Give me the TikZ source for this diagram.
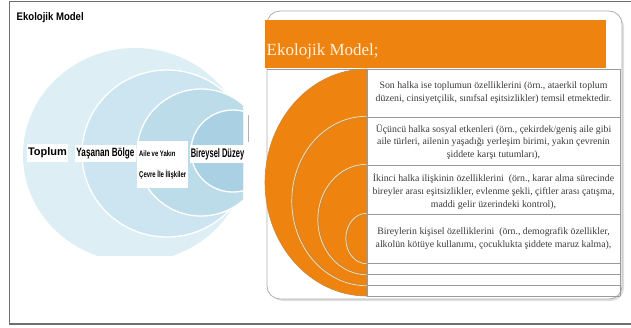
\documentclass[tikz,border=0pt]{standalone}
\usepackage{fontspec}
\setmainfont{Liberation Serif}
\newfontfamily\arialf{Liberation Sans}
\definecolor{ringA}{HTML}{DDEEF5}
\definecolor{ringB}{HTML}{CDE5F0}
\definecolor{ringC}{HTML}{BDDCEA}
\definecolor{ringD}{HTML}{AAD1E3}
\definecolor{orng}{HTML}{EE840F}
\definecolor{cream}{HTML}{FFF1DE}
\definecolor{txt}{HTML}{3A3A3A}
\definecolor{framec}{HTML}{6E6E6E}
\definecolor{tline}{HTML}{9A9A9A}
\definecolor{arcl}{HTML}{FFE6B0}
\definecolor{arcd}{HTML}{B98A55}
\begin{document}
\begin{tikzpicture}[x=1pt,y=-1pt,
  lbl/.style={fill=white, inner sep=1pt, text=black, font=\arialf\bfseries},
  rowtext/.style={align=center, text=txt, font=\fontsize{9.8}{12.8}\selectfont, inner sep=0pt},
  tablerule/.style={draw=tline, line width=0.7pt},
  ringedge/.style={draw=white, line width=1.3pt}]
\useasboundingbox (0,0) rectangle (631,327);
% outer frame
\draw[framec, line width=1.3pt] (631,1.7) -- (9.3,1.7) -- (9.3,324) -- (631,324);
% left title
\node[anchor=base west, inner sep=0pt, font=\arialf\bfseries\fontsize{11}{13}\selectfont] (ltitle) at (16.5,20) {\scalebox{0.87}[1]{Ekolojik Model}};
% rings
\begin{scope}
\clip (0,0) rectangle (243,255);
\fill[ringA] (135,155) ellipse [x radius=112pt, y radius=107pt];
\filldraw[fill=ringB, ringedge] (167,153.5) ellipse [x radius=85pt, y radius=83.5pt];
\filldraw[fill=ringC, ringedge] (201,152.5) ellipse [x radius=64pt, y radius=63.5pt];
\filldraw[fill=ringD, ringedge] (233,151) ellipse [x radius=42pt, y radius=41pt];
\end{scope}
\draw[gray!60, line width=1.6pt] (248.5,115) -- (248.5,142);
% ring labels
\node[lbl, minimum width=39pt, minimum height=18pt] (toplum) at (47.5,153) {\fontsize{11}{13}\selectfont Toplum};
\node[lbl, minimum width=59pt, minimum height=17pt] (yasanan) at (105.5,153.5) {\scalebox{0.68}[1]{\fontsize{12}{14}\selectfont Yaşanan Bölge}};
\node[lbl, minimum width=51pt, minimum height=47pt, align=left, anchor=north west] (aile) at (137,141) {\scalebox{0.74}[1]{\fontsize{8}{9}\selectfont Aile ve Yakın}\\[9pt]\scalebox{0.7}[1]{\fontsize{8.5}{9}\selectfont Çevre İle İlişkiler}};
\node[lbl, minimum width=51pt, minimum height=18pt] (bireysel) at (217.5,154) {\scalebox{0.6}[1]{\fontsize{12.5}{14}\selectfont Bireysel Düzey}};
% right panel
\fill[gray!25] (270,14) [rounded corners=13pt] rectangle (624,301);
\draw[draw=tline!80, fill=white, line width=0.8pt, rounded corners=13pt] (267,11) rectangle (622,299);
\node[fill=orng, minimum width=341pt, minimum height=48pt, anchor=north west, inner sep=0pt] (band) at (265,20) {};
\node[anchor=base west, inner sep=0pt, text=cream, font=\fontsize{17}{20}\selectfont] (rtitle) at (266.5,55.5) {Ekolojik Model;};
% table rules
\draw[tablerule] (267,69) -- (620,69);
\foreach \yy in {117,165,214,263,274,285,296} {\draw[tablerule] (367,\yy) -- (620,\yy);}
\draw[tablerule] (620,69) -- (620,296);
% orange half rings
\filldraw[fill=orng, draw=arcd, line width=0.6pt] (367,69) arc[start angle=90, end angle=270, x radius=102pt, y radius=113.5pt] -- cycle;
\foreach \top/\rx/\ry in {117/74/84, 165/48/54.5, 214/20/24.5} {
  \draw[arcd, line width=1.0pt] (367,\top) arc[start angle=90, end angle=270, x radius=\rx pt, y radius=\ry pt];
  \draw[arcl, line width=0.7pt] (366.5,\top-0.7) arc[start angle=90, end angle=270, x radius=\rx pt+0.7pt, y radius=\ry pt+0.7pt];
}
\draw[tablerule] (367,69) -- (367,296);
% row texts
\node[rowtext] (r1) at (493.5,93) {Son halka ise toplumun özelliklerini (örn., ataerkil toplum\\düzeni, cinsiyetçilik, sınıfsal eşitsizlikler) temsil etmektedir.};
\node[rowtext] (r2) at (493.5,142) {Üçüncü halka sosyal etkenleri (örn., çekirdek/geniş aile gibi\\aile türleri, ailenin yaşadığı yerleşim birimi, yakın çevrenin\\şiddete karşı tutumları),};
\node[rowtext] (r3) at (493.5,191.5) {İkinci halka ilişkinin özelliklerini~ (örn., karar alma sürecinde\\bireyler arası eşitsizlikler, evlenme şekli, çiftler arası çatışma,\\maddi gelir üzerindeki kontrol),};
\node[rowtext] (r4) at (493.5,238.5) {Bireylerin kişisel özelliklerini~ (örn., demografik özellikler,\\alkolün kötüye kullanımı, çocuklukta şiddete maruz kalma),};
\end{tikzpicture}
\end{document}
